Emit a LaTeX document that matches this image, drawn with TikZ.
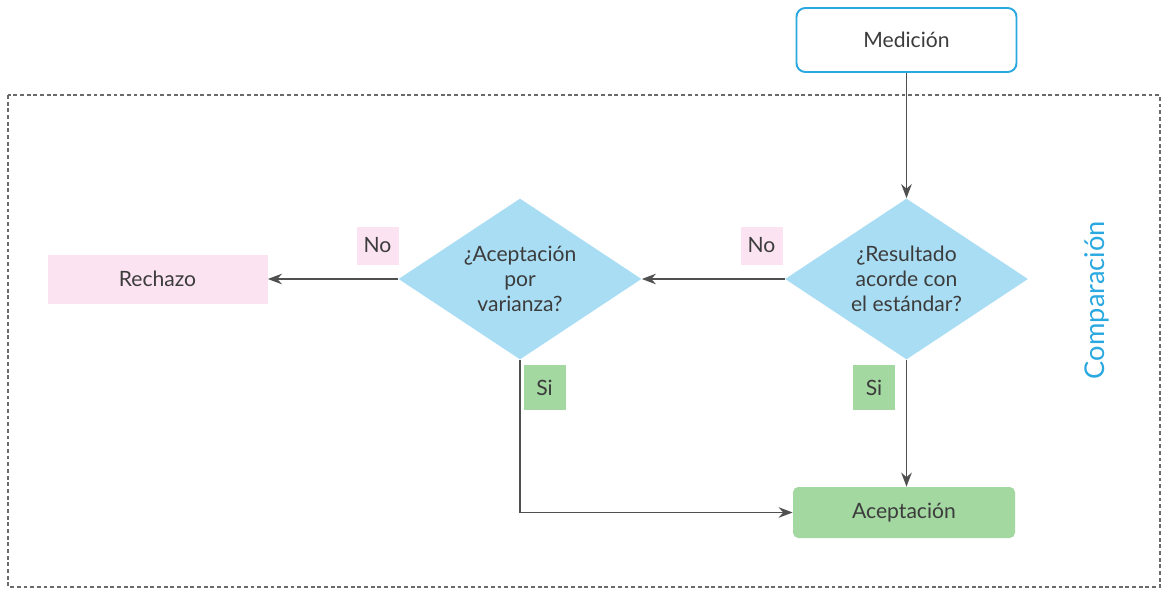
\documentclass[tikz,border=0pt]{standalone}
\usepackage{fontspec}
\setmainfont{Lato}
\usepackage{xcolor}
\usetikzlibrary{shapes.geometric, arrows.meta}
\definecolor{SkyLine}{HTML}{2AA8E0}
\definecolor{SkyFill}{HTML}{A9DDF4}
\definecolor{SoftPink}{HTML}{FBE3F2}
\definecolor{SoftGreen}{HTML}{A3D8A1}
\definecolor{InkGray}{HTML}{3C3C3C}
\definecolor{LineGray}{HTML}{505050}
\definecolor{DashGray}{HTML}{6A6A6A}

\begin{document}
\begin{tikzpicture}[
      every node/.style={font=\fontsize{12}{14.2}\selectfont, text=InkGray},
      step box/.style={draw=SkyLine, line width=1.1pt, rounded corners=5pt, fill=white,
                  minimum width=4.4cm, minimum height=1.28cm},
      question/.style={diamond, aspect=1.5, fill=SkyFill, inner sep=0pt, align=center,
                  minimum width=4.86cm, minimum height=3.22cm},
      result/.style={minimum width=4.4cm, minimum height=0.98cm},
      tag/.style={minimum width=0.84cm, minimum height=0.76cm, inner sep=0pt},
      arr/.style={-{Stealth[length=8pt, width=6pt]}, draw=LineGray, line width=0.9pt}]
      \useasboundingbox (0,0) rectangle (23.24,-11.78);
      % Comparison frame
      \draw[DashGray, line width=0.8pt, dash pattern=on 2.2pt off 1.6pt] (0.16,-1.90) rectangle (23.20,-11.74);
      \node[text=SkyLine, rotate=90, font=\fontsize{15.5}{18}\selectfont] (comp) at (21.94,-6.00) {Comparación};
      % Steps
      \node[step box] (med) at (18.13,-0.80) {Medición};
      \node[question] (res) at (18.13,-5.58) {¿Resultado\\acorde con\\el estándar?};
      \node[question] (var) at (10.40,-5.58) {¿Aceptación\\por\\varianza?};
      % Outcomes
      \node[result, fill=SoftPink] (rech) at (3.15,-5.58) {Rechazo};
      \node[result, fill=SoftGreen, rounded corners=3pt, minimum width=4.44cm, minimum height=1.02cm] (acep) at (18.08,-10.25) {Aceptación};
      % Answer tags
      \node[tag, fill=SoftPink] (no1) at (15.23,-4.91) {No};
      \node[tag, fill=SoftPink] (no2) at (7.55,-4.91) {No};
      \node[tag, fill=SoftGreen, minimum height=0.9cm] (si1) at (17.48,-7.75) {Si};
      \node[tag, fill=SoftGreen, minimum height=0.9cm] (si2) at (10.89,-7.75) {Si};
      % Arrows
      \draw[arr] (med) -- (res);
      \draw[arr] (res.west) -- (var.east);
      \draw[arr] (var.west) -- (rech.east);
      \draw[arr] (res.south) -- (res.south |- acep.north);
      \draw[arr] (var.south) |- (acep.west);
    \end{tikzpicture}
\end{document}
